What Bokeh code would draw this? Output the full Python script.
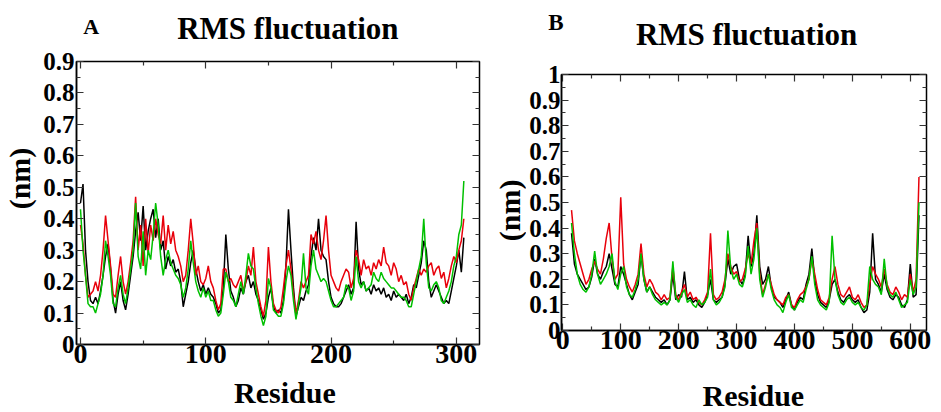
from bokeh.plotting import figure
from bokeh.layouts import row, column
from bokeh.models import Range1d, FixedTicker, LinearAxis, Label
from bokeh.embed import file_html
from bokeh.resources import INLINE
import math

# ---------------- Panel A data ----------------
resA = list(range(0, 308, 2))
blackA = [0.45, 0.51, 0.30, 0.20, 0.14, 0.13, 0.15, 0.13, 0.17, 0.22,
          0.28, 0.32, 0.24, 0.14, 0.10, 0.16, 0.20, 0.14, 0.11, 0.16,
          0.22, 0.28, 0.36, 0.42, 0.33, 0.44, 0.30, 0.36, 0.40, 0.43,
          0.34, 0.40, 0.30, 0.33, 0.24, 0.28, 0.25, 0.27, 0.23, 0.24,
          0.20, 0.12, 0.16, 0.20, 0.26, 0.30, 0.24, 0.20, 0.17, 0.19,
          0.16, 0.18, 0.16, 0.15, 0.13, 0.10, 0.11, 0.18, 0.35, 0.24,
          0.17, 0.15, 0.12, 0.14, 0.18, 0.16, 0.20, 0.22, 0.18, 0.20,
          0.16, 0.14, 0.11, 0.08, 0.10, 0.15, 0.18, 0.12, 0.10, 0.11,
          0.10, 0.14, 0.25, 0.43, 0.30, 0.18, 0.09, 0.12, 0.15, 0.14,
          0.17, 0.19, 0.28, 0.34, 0.30, 0.40, 0.30, 0.28, 0.27, 0.20,
          0.15, 0.13, 0.12, 0.12, 0.13, 0.15, 0.17, 0.19, 0.16, 0.18,
          0.39, 0.24, 0.19, 0.20, 0.17, 0.18, 0.16, 0.19, 0.17, 0.18,
          0.16, 0.18, 0.15, 0.16, 0.14, 0.17, 0.15, 0.16, 0.15, 0.14,
          0.16, 0.13, 0.15, 0.19, 0.18, 0.22, 0.26, 0.33, 0.30, 0.20,
          0.15, 0.17, 0.19, 0.17, 0.15, 0.13, 0.14, 0.13, 0.17, 0.21,
          0.25, 0.30, 0.23, 0.34]
redA = [0.38, 0.32, 0.22, 0.15, 0.16, 0.17, 0.20, 0.17, 0.22, 0.30,
        0.41, 0.33, 0.25, 0.16, 0.15, 0.22, 0.28, 0.20, 0.16, 0.20,
        0.26, 0.33, 0.47, 0.30, 0.38, 0.25, 0.40, 0.29, 0.38, 0.33,
        0.40, 0.35, 0.32, 0.41, 0.30, 0.38, 0.32, 0.36, 0.30, 0.28,
        0.25, 0.20, 0.22, 0.30, 0.40, 0.32, 0.22, 0.25, 0.20, 0.19,
        0.21, 0.25, 0.20, 0.18, 0.14, 0.11, 0.13, 0.24, 0.24, 0.20,
        0.21, 0.19, 0.18, 0.20, 0.22, 0.17, 0.20, 0.25, 0.22, 0.31,
        0.20, 0.16, 0.12, 0.09, 0.14, 0.31, 0.20, 0.13, 0.11, 0.10,
        0.12, 0.18, 0.25, 0.30, 0.24, 0.16, 0.10, 0.14, 0.20, 0.18,
        0.20, 0.22, 0.35, 0.32, 0.36, 0.30, 0.27, 0.33, 0.41, 0.30,
        0.22, 0.20, 0.18, 0.17, 0.20, 0.22, 0.24, 0.23, 0.18, 0.21,
        0.30, 0.27, 0.22, 0.27, 0.24, 0.25, 0.22, 0.26, 0.24, 0.27,
        0.25, 0.31, 0.26, 0.25, 0.22, 0.26, 0.24, 0.20, 0.22, 0.19,
        0.20, 0.16, 0.14, 0.18, 0.21, 0.24, 0.22, 0.24, 0.23, 0.25,
        0.26, 0.22, 0.24, 0.25, 0.21, 0.23, 0.18, 0.21, 0.25, 0.28,
        0.26, 0.30, 0.33, 0.40]
greenA = [0.43, 0.30, 0.22, 0.13, 0.12, 0.12, 0.10, 0.13, 0.16, 0.22,
          0.33, 0.28, 0.22, 0.13, 0.12, 0.18, 0.22, 0.16, 0.13, 0.18,
          0.24, 0.30, 0.45, 0.28, 0.24, 0.36, 0.22, 0.30, 0.27, 0.35,
          0.45, 0.38, 0.28, 0.22, 0.27, 0.30, 0.26, 0.24, 0.22, 0.21,
          0.19, 0.15, 0.18, 0.24, 0.33, 0.26, 0.20, 0.17, 0.15, 0.18,
          0.15, 0.17, 0.14, 0.14, 0.11, 0.09, 0.10, 0.16, 0.23, 0.20,
          0.15, 0.14, 0.12, 0.16, 0.20, 0.16, 0.22, 0.29, 0.25, 0.24,
          0.18, 0.13, 0.09, 0.06, 0.09, 0.21, 0.18, 0.11, 0.10, 0.09,
          0.09, 0.13, 0.20, 0.25, 0.22, 0.14, 0.08, 0.13, 0.18, 0.29,
          0.18, 0.16, 0.25, 0.30, 0.24, 0.22, 0.20, 0.21, 0.20, 0.17,
          0.14, 0.12, 0.12, 0.13, 0.14, 0.15, 0.19, 0.18, 0.14, 0.17,
          0.28, 0.20, 0.18, 0.20, 0.17, 0.18, 0.19, 0.23, 0.21, 0.20,
          0.23, 0.21, 0.20, 0.19, 0.18, 0.18, 0.17, 0.16, 0.15, 0.15,
          0.14, 0.12, 0.12, 0.16, 0.20, 0.24, 0.28, 0.40, 0.26, 0.18,
          0.17, 0.19, 0.20, 0.18, 0.14, 0.13, 0.15, 0.17, 0.20, 0.25,
          0.28, 0.35, 0.38, 0.52]

# ---------------- Panel B data ----------------
resB = list(range(15, 620, 5))
blackB = [0.38, 0.26, 0.22, 0.20, 0.18, 0.16, 0.17, 0.21, 0.28, 0.22,
          0.20, 0.23, 0.25, 0.30, 0.24, 0.18, 0.17, 0.25, 0.22, 0.18,
          0.14, 0.12, 0.15, 0.18, 0.30, 0.20, 0.15, 0.17, 0.15, 0.13,
          0.12, 0.11, 0.12, 0.10, 0.12, 0.22, 0.12, 0.14, 0.13, 0.23,
          0.12, 0.13, 0.11, 0.12, 0.10, 0.09, 0.11, 0.14, 0.20, 0.12,
          0.11, 0.12, 0.13, 0.18, 0.28, 0.22, 0.25, 0.26, 0.20, 0.18,
          0.22, 0.37, 0.25, 0.30, 0.45, 0.25, 0.18, 0.20, 0.25, 0.17,
          0.13, 0.12, 0.11, 0.09, 0.12, 0.15, 0.10, 0.08, 0.11, 0.13,
          0.12, 0.18, 0.22, 0.32, 0.20, 0.14, 0.11, 0.10, 0.09, 0.12,
          0.18, 0.20, 0.15, 0.12, 0.11, 0.13, 0.14, 0.12, 0.11, 0.12,
          0.09, 0.07, 0.08, 0.15, 0.38, 0.20, 0.18, 0.15, 0.22, 0.16,
          0.13, 0.12, 0.14, 0.13, 0.10, 0.09, 0.12, 0.26, 0.13, 0.14,
          0.45]
redB = [0.47, 0.35, 0.30, 0.26, 0.22, 0.18, 0.20, 0.24, 0.27, 0.24,
        0.22, 0.28, 0.36, 0.42, 0.28, 0.20, 0.22, 0.52, 0.26, 0.20,
        0.17, 0.15, 0.18, 0.22, 0.34, 0.22, 0.17, 0.20, 0.18, 0.15,
        0.14, 0.12, 0.14, 0.12, 0.13, 0.25, 0.14, 0.12, 0.15, 0.18,
        0.13, 0.15, 0.12, 0.13, 0.11, 0.10, 0.12, 0.15, 0.38, 0.14,
        0.12, 0.13, 0.15, 0.20, 0.30, 0.25, 0.22, 0.23, 0.19, 0.20,
        0.24, 0.30, 0.26, 0.35, 0.42, 0.22, 0.14, 0.18, 0.22, 0.18,
        0.14, 0.12, 0.11, 0.10, 0.13, 0.14, 0.10, 0.09, 0.12, 0.14,
        0.15, 0.17, 0.20, 0.28, 0.22, 0.16, 0.12, 0.11, 0.10, 0.13,
        0.20, 0.25, 0.18, 0.14, 0.13, 0.15, 0.17, 0.13, 0.12, 0.14,
        0.11, 0.09, 0.10, 0.18, 0.25, 0.22, 0.20, 0.17, 0.24, 0.18,
        0.15, 0.14, 0.17, 0.15, 0.12, 0.14, 0.13, 0.22, 0.15, 0.20,
        0.60]
greenB = [0.42, 0.30, 0.22, 0.18, 0.16, 0.15, 0.17, 0.22, 0.31, 0.22,
          0.18, 0.20, 0.22, 0.25, 0.30, 0.19, 0.16, 0.22, 0.25, 0.17,
          0.14, 0.13, 0.16, 0.20, 0.30, 0.20, 0.15, 0.17, 0.14, 0.12,
          0.11, 0.10, 0.11, 0.10, 0.12, 0.27, 0.13, 0.11, 0.14, 0.16,
          0.11, 0.12, 0.10, 0.09, 0.12, 0.10, 0.11, 0.13, 0.24, 0.12,
          0.10, 0.11, 0.13, 0.17, 0.39, 0.24, 0.20, 0.22, 0.18, 0.17,
          0.21, 0.33, 0.22, 0.28, 0.40, 0.20, 0.13, 0.17, 0.22, 0.16,
          0.12, 0.10, 0.09, 0.07, 0.11, 0.14, 0.09, 0.08, 0.10, 0.12,
          0.11, 0.16, 0.20, 0.29, 0.18, 0.12, 0.10, 0.09, 0.08, 0.11,
          0.37, 0.20, 0.14, 0.11, 0.10, 0.12, 0.13, 0.11, 0.10, 0.11,
          0.09, 0.08, 0.10, 0.25, 0.20, 0.18, 0.17, 0.14, 0.28, 0.17,
          0.14, 0.13, 0.15, 0.12, 0.09, 0.10, 0.11, 0.20, 0.14, 0.17,
          0.50]

# ---------------- ticks ----------------
xticksA = [0, 100, 200, 300]
xminorA = [50, 150, 250]
yticksA = [0, 0.1, 0.2, 0.3, 0.4, 0.5, 0.6, 0.7, 0.8, 0.9]
ylabelsA = ["0", "0.1", "0.2", "0.3", "0.4", "0.5", "0.6", "0.7", "0.8", "0.9"]
xticksB = [0, 100, 200, 300, 400, 500, 600]
xminorB = [50, 150, 250, 350, 450, 550]
yticksB = [0, 0.1, 0.2, 0.3, 0.4, 0.5, 0.6, 0.7, 0.8, 0.9, 1.0]
ylabelsB = ["0", "0.1", "0.2", "0.3", "0.4", "0.5", "0.6", "0.7", "0.8", "0.9", "1"]

FONT = "Liberation Serif"
COLORS = ["#000000", "#e8000b", "#00c000"]


def style_axis(ax):
    ax.axis_line_color = "black"
    ax.axis_line_width = 1.5
    ax.major_tick_in = 7
    ax.major_tick_out = 0
    ax.minor_tick_in = 4
    ax.minor_tick_out = 0
    ax.major_tick_line_width = 1.2
    ax.minor_tick_line_width = 1.2
    ax.major_tick_line_color = "#333333"
    ax.minor_tick_line_color = "#333333"
    ax.major_label_text_font = FONT
    ax.major_label_text_font_style = "bold"
    ax.major_label_text_color = "black"


def make_panel(width, height, borders, xr, yr, xt, xm, yt, yl, res, series, ystandoff):
    left, right, top, bottom = borders
    p = figure(width=width, height=height, x_range=Range1d(*xr), y_range=Range1d(*yr),
               output_backend="svg", toolbar_location=None, title_location=None,
               min_border_left=left, min_border_right=right,
               min_border_top=top, min_border_bottom=bottom)
    p.grid.visible = False
    p.outline_line_color = "black"
    p.outline_line_width = 1.5
    p.background_fill_color = "white"
    p.border_fill_color = "white"

    ymin = [yt[0] + 0.05 + 0.1 * i for i in range(len(yt) - 1)]
    xtick = FixedTicker(ticks=xt, minor_ticks=xm)
    ytick = FixedTicker(ticks=yt, minor_ticks=ymin)

    below = p.below[0]
    leftax = p.left[0]
    below.ticker = xtick
    leftax.ticker = ytick
    leftax.major_label_overrides = {v: s for v, s in zip(yt, yl)}

    above = LinearAxis(ticker=xtick)
    right_ax = LinearAxis(ticker=ytick)
    p.add_layout(above, "above")
    p.add_layout(right_ax, "right")

    for ax in [below, leftax, above, right_ax]:
        style_axis(ax)
    above.major_label_overrides = {v: "" for v in xt}
    right_ax.major_label_overrides = {v: "" for v in yt}
    for ax in [above, right_ax]:
        ax.major_label_text_font_size = "1px"
        ax.major_label_standoff = 0
        ax.axis_line_color = None

    below.major_label_text_font_size = "28px"
    below.major_label_standoff = 0
    leftax.major_label_text_font_size = "25px"
    leftax.major_label_standoff = ystandoff

    for vals, c in zip(series, COLORS):
        p.line(res, vals, line_color=c, line_width=1.5)
    return p


def strip_fig(w, h, xr, yr):
    s = figure(width=w, height=h, x_range=Range1d(*xr), y_range=Range1d(*yr),
               output_backend="svg", toolbar_location=None, title_location=None,
               x_axis_type=None, y_axis_type=None,
               min_border_left=0, min_border_right=0, min_border_top=0, min_border_bottom=0)
    s.grid.visible = False
    s.outline_line_color = None
    s.border_fill_color = "white"
    s.background_fill_color = "white"
    return s


def add_text(p, x, y, text, size, angle=0.0, baseline="alphabetic"):
    p.add_layout(Label(x=x, y=y, text=text, text_font=FONT, text_font_style="bold",
                       text_font_size=size, text_color="black", text_align="center",
                       text_baseline=baseline, angle=angle))


# ---------------- panel A (page x 0..483) ----------------
pA = make_panel(443, 329, (35, 4, 15, 31), (-3.2, 318.5), (0, 0.9),
                xticksA, xminorA, yticksA, ylabelsA, resA, [blackA, redA, greenA], 2)
topA = strip_fig(483, 46, (0, 479), (0, 46))
add_text(topA, 90, 20, "A", "22px")
add_text(topA, 285, 18.5, "RMS fluctuation", "31px")
leftA = strip_fig(40, 329, (0, 40), (0, 0.9))
add_text(leftA, 19, 0.528, "(nm)", "30px", angle=math.pi / 2, baseline="middle")
botA = strip_fig(483, 37, (0, 479), (0, 37))
add_text(botA, 282, 20, "Residue", "30px")
colA = column(topA, row(leftA, pA, spacing=0), botA, spacing=0)

# ---------------- panel B (page x 483..941) ----------------
pB = make_panel(415, 320, (33, 15, 22, 42), (-2.3, 628), (0, 1.0),
                xticksB, xminorB, yticksB, ylabelsB, resB, [blackB, redB, greenB], 1)
topB = strip_fig(458, 52, (0, 443), (0, 52))
add_text(topB, 70, 30, "B", "23px")
add_text(topB, 254.5, 18, "RMS fluctuation", "31px")
leftB = strip_fig(43, 320, (0, 43), (0, 1.0))
add_text(leftB, 25.5, 0.469, "(nm)", "30px", angle=math.pi / 2, baseline="middle")
botB = strip_fig(458, 40, (0, 443), (0, 40))
add_text(botB, 261, 17, "Residue", "30px")
colB = column(topB, row(leftB, pB, spacing=0), botB, spacing=0)

layout = row(colA, colB, spacing=0)
open("out.html", "w").write(file_html(layout, INLINE))
